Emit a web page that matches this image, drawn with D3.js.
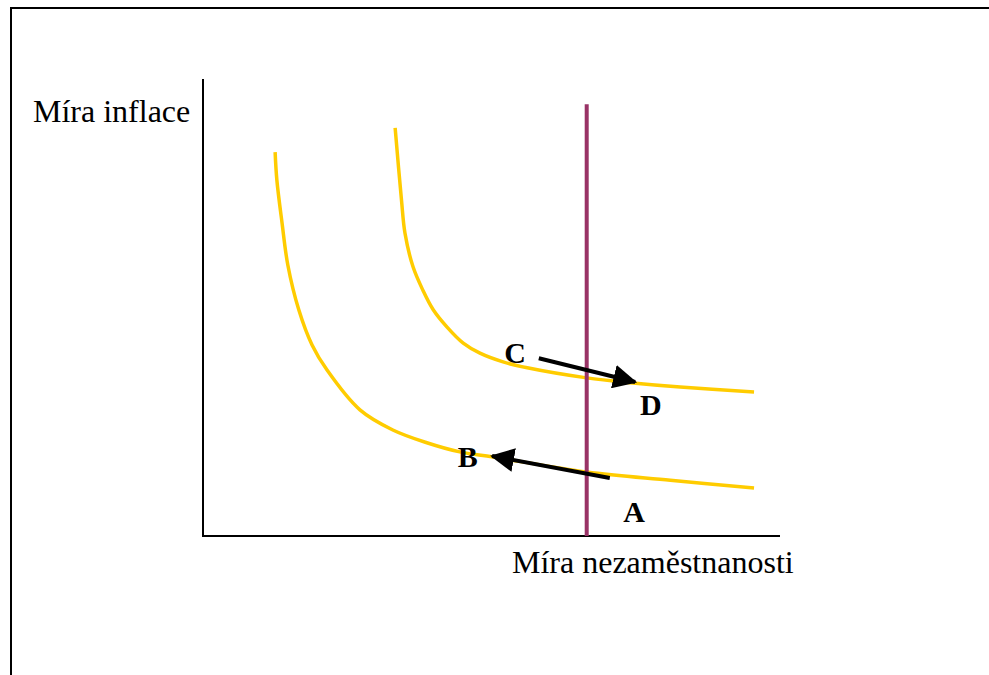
<!DOCTYPE html>
<html>
<head>
<meta charset="utf-8">
<script src="https://cdn.jsdelivr.net/npm/d3@7"></script>
<style>
  body { margin: 0; background: #fff; }
  svg text { font-family: "Liberation Serif", "Times New Roman", serif; fill: #000; }
</style>
</head>
<body>
<svg id="chart" width="989" height="675"></svg>
<script>
// curve 1 (lower Phillips curve), in chart units 0..100
var lowX = [12.5, 12.8, 13.7, 14.7, 16.6, 18.9, 21.5, 27.2, 32.9, 38.8, 44.5, 50.3, 66.5, 81, 95.5];
var lowY = [84, 77.9, 68.5, 59.3, 49.5, 41.8, 36.3, 27.6, 23.2, 20.4, 18.4, 17.3, 14, 12.2, 10.5];
// curve 2 (upper Phillips curve)
var highX = [33.3, 34.4, 35.0, 36.4, 38.1, 39.9, 42.3, 45.1, 48.0, 52.0, 56.2, 66.5, 74.5, 82.7, 95.5];
var highY = [89.3, 73.5, 66.3, 58.9, 53.8, 49.5, 45.7, 42.2, 40.0, 38.1, 36.8, 34.6, 33.5, 32.6, 31.5];
// natural rate of unemployment (vertical line)
var naturalX = 66.5;
var naturalTop = 94.5;
// arrows A -> B and C -> D: [x1, y1, x2, y2]
var arrows = [[70.5, 12.7, 50.1, 17.5], [58.2, 38.9, 74.9, 33.7]];
// point labels
var pointNames = ["A", "B", "C", "D"];
var pointX = [74.7, 45.9, 54.1, 77.6];
var pointY = [3.1, 15.1, 37.9, 26.5];
var yTitle = "Míra inflace";
var xTitle = "Míra nezaměstnanosti";

var svg = d3.select("#chart");

var x = d3.scaleLinear().domain([0, 100]).range([203, 780]);
var y = d3.scaleLinear().domain([0, 100]).range([536, 79]);

// frame round the picture
svg.append("rect")
  .attr("x", 11).attr("y", 8)
  .attr("width", 1000).attr("height", 700)
  .attr("fill", "none").attr("stroke", "#000").attr("stroke-width", 2);

svg.append("defs").append("marker")
  .attr("id", "head")
  .attr("markerUnits", "userSpaceOnUse")
  .attr("viewBox", "0 0 24 24")
  .attr("markerWidth", 24).attr("markerHeight", 24)
  .attr("refX", 22).attr("refY", 12)
  .attr("orient", "auto")
  .append("path")
  .attr("d", "M0,0 L24,12 L0,24 Z")
  .attr("fill", "#000");

// axes, no ticks
svg.append("line")
  .attr("x1", x(0)).attr("x2", x(0))
  .attr("y1", y(100)).attr("y2", y(0))
  .attr("stroke", "#000").attr("stroke-width", 2);
svg.append("line")
  .attr("x1", x(0) - 1).attr("x2", x(100))
  .attr("y1", y(0)).attr("y2", y(0))
  .attr("stroke", "#000").attr("stroke-width", 2);

var line = d3.line()
  .x(function(d) { return x(d[0]); })
  .y(function(d) { return y(d[1]); })
  .curve(d3.curveCatmullRom.alpha(0.5));

var curves = [d3.zip(lowX, lowY), d3.zip(highX, highY)];
svg.selectAll("path.pc")
  .data(curves)
  .enter().append("path")
  .attr("class", "pc")
  .attr("d", line)
  .attr("fill", "none")
  .attr("stroke", "#ffcc00")
  .attr("stroke-width", 3.5);

svg.append("line")
  .attr("x1", x(naturalX)).attr("x2", x(naturalX))
  .attr("y1", y(naturalTop)).attr("y2", y(0))
  .attr("stroke", "#993366").attr("stroke-width", 4);

svg.selectAll("line.arrow")
  .data(arrows)
  .enter().append("line")
  .attr("class", "arrow")
  .attr("x1", function(d) { return x(d[0]); })
  .attr("y1", function(d) { return y(d[1]); })
  .attr("x2", function(d) { return x(d[2]); })
  .attr("y2", function(d) { return y(d[3]); })
  .attr("stroke", "#000").attr("stroke-width", 4)
  .attr("marker-end", "url(#head)");

svg.selectAll("text.pt")
  .data(pointNames)
  .enter().append("text")
  .attr("class", "pt")
  .attr("x", function(d, i) { return x(pointX[i]); })
  .attr("y", function(d, i) { return y(pointY[i]); })
  .attr("text-anchor", "middle")
  .style("font-size", "30px")
  .style("font-weight", "bold")
  .text(function(d) { return d; });

svg.append("text")
  .attr("x", 33).attr("y", 122)
  .style("font-size", "32px")
  .text(yTitle);

svg.append("text")
  .attr("x", 512).attr("y", 573)
  .style("font-size", "32px")
  .text(xTitle);
</script>
</body>
</html>
